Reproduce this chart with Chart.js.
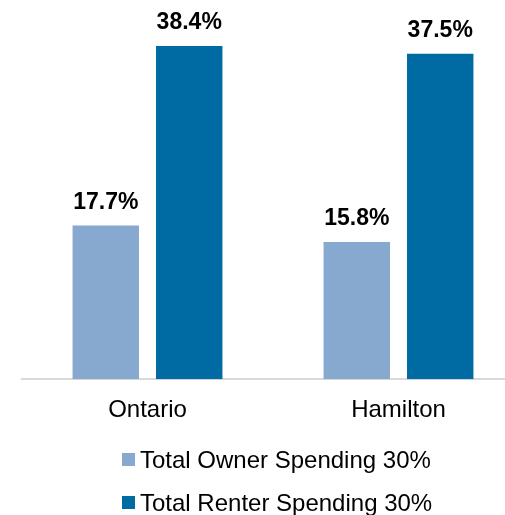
<!DOCTYPE html>
<html>
<head>
<meta charset="utf-8">
<script src="https://cdn.jsdelivr.net/npm/chart.js@4/dist/chart.umd.min.js"></script>
<style>
  html, body { margin: 0; padding: 0; background: #fff; overflow: hidden; }
  #wrap { position: relative; width: 524px; height: 515px; }
  #legend { position: absolute; left: 122px; top: 438px; font-family: "Liberation Sans", Arial, sans-serif; font-size: 24px; color: #000; }
  .item { display: flex; align-items: center; height: 43px; }
  .box { width: 13px; height: 13px; margin-right: 5px; }
</style>
</head>
<body>
<div id="wrap">
  <canvas id="chart" width="524" height="515"></canvas>
  <div id="legend"></div>
</div>
<script>
const regions = ['Ontario', 'Hamilton'];
const seriesNames = ['Total Owner Spending 30%', 'Total Renter Spending 30%'];
const ownerValues = [17.7, 15.8];
const renterValues = [38.4, 37.5];
const seriesColors = ['#88a9cf', '#006ba2'];

const FONT = '"Liberation Sans", Arial, sans-serif';

// draws the percentage above each bar
const valueLabels = {
  id: 'valueLabels',
  afterDatasetsDraw(chart) {
    const ctx = chart.ctx;
    ctx.save();
    ctx.font = 'bold 23px ' + FONT;
    ctx.fillStyle = '#000';
    ctx.textAlign = 'center';
    ctx.textBaseline = 'alphabetic';
    chart.data.datasets.forEach((ds, i) => {
      chart.getDatasetMeta(i).data.forEach((bar, j) => {
        ctx.fillText(ds.data[j].toFixed(1) + '%', bar.x, bar.y - 17);
      });
    });
    ctx.restore();
  }
};

const ctx = document.getElementById('chart').getContext('2d');
const chart = new Chart(ctx, {
  type: 'bar',
  data: {
    labels: regions,
    datasets: [
      { label: seriesNames[0], data: ownerValues, backgroundColor: seriesColors[0] },
      { label: seriesNames[1], data: renterValues, backgroundColor: seriesColors[1] }
    ]
  },
  options: {
    responsive: false,
    animation: false,
    categoryPercentage: 0.665,
    barPercentage: 0.796,
    layout: { padding: { left: 22, right: 0, top: 32, bottom: 73 } },
    plugins: {
      legend: { display: false },
      tooltip: { enabled: false }
    },
    scales: {
      y: { display: false, min: 0, max: 40 },
      x: {
        grid: { display: false, drawTicks: false },
        border: { display: true, color: '#d9d9d9', width: 2 },
        ticks: { color: '#000', font: { family: FONT, size: 24 }, padding: 17 }
      }
    }
  },
  plugins: [valueLabels]
});

// legend rows, one per series
const legend = document.getElementById('legend');
seriesNames.forEach((name, i) => {
  const row = document.createElement('div');
  row.className = 'item';
  const box = document.createElement('span');
  box.className = 'box';
  box.style.background = seriesColors[i];
  const txt = document.createElement('span');
  txt.textContent = name;
  row.appendChild(box);
  row.appendChild(txt);
  legend.appendChild(row);
});
</script>
</body>
</html>
